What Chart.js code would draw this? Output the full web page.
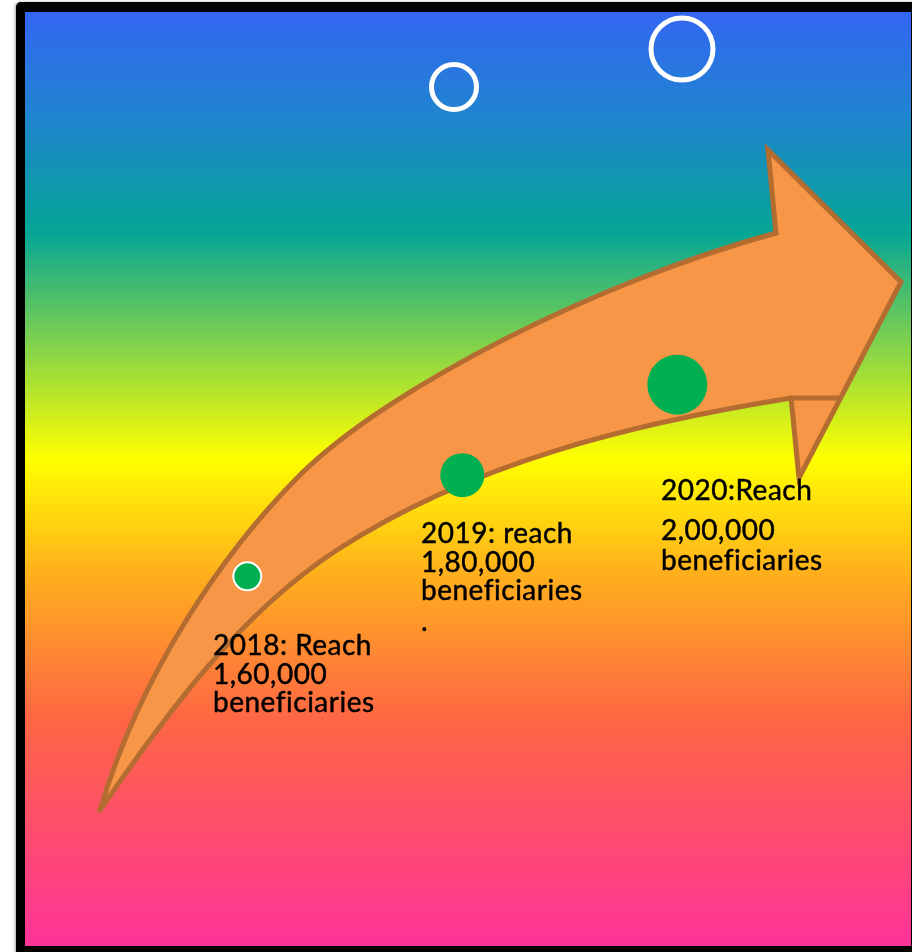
<!DOCTYPE html>
<html>
<head>
<meta charset="utf-8">
<title>Beneficiary reach 2018–2020</title>
<script src="https://cdn.jsdelivr.net/npm/chart.js@4/dist/chart.umd.min.js"></script>
<style>
  html, body { margin: 0; padding: 0; background: #ffffff; }
  #wrap { width: 912px; height: 952px; }
  canvas { display: block; }
</style>
</head>
<body>
<div id="wrap"><canvas id="reach" width="912" height="952"></canvas></div>
<script>
// Yearly reach targets
const years = [2018, 2019, 2020];
const beneficiaries = [160000, 180000, 200000];
const labelLines = [
  ['2018: Reach', '1,60,000', 'beneficiaries'],
  ['2019: reach', '1,80,000', 'beneficiaries', '.'],
  ['2020:Reach', '2,00,000', 'beneficiaries']
];

const ORANGE = '#F79646';
const BROWN = '#B46C30';
const GREEN = '#00B050';

// Bubble size grows with the target
function bubbleRadius(v) {
  return 14 + (v - 160000) * 16 / 40000;
}

// Path made of cubic Bézier pieces: [start, [c1, c2, end], [c1, c2, end], ...]
function bezierPath(ctx, spec, startNew) {
  if (startNew) ctx.moveTo(spec[0][0], spec[0][1]);
  for (let i = 1; i < spec.length; i++) {
    const s = spec[i];
    ctx.bezierCurveTo(s[0][0], s[0][1], s[1][0], s[1][1], s[2][0], s[2][1]);
  }
}
// Same path walked backwards (without the initial moveTo)
function bezierPathReverse(ctx, spec) {
  for (let i = spec.length - 1; i >= 1; i--) {
    const s = spec[i];
    const end = i > 1 ? spec[i - 1][2] : spec[0];
    ctx.bezierCurveTo(s[1][0], s[1][1], s[0][0], s[0][1], end[0], end[1]);
  }
}
function pathEnd(spec) {
  return spec[spec.length - 1][2];
}

// Framed rainbow backdrop
const backdrop = {
  id: 'backdrop',
  beforeDraw(chart) {
    const ctx = chart.ctx;
    ctx.save();
    ctx.fillStyle = '#ffffff';
    ctx.fillRect(0, 0, chart.width, chart.height);
    ctx.shadowColor = 'rgba(0,0,0,0.35)';
    ctx.shadowBlur = 3;
    ctx.shadowOffsetX = -1;
    ctx.fillStyle = '#000000';
    ctx.beginPath();
    ctx.roundRect(16, 2, chart.width + 20, chart.height + 20, 5);
    ctx.fill();
    ctx.shadowColor = 'transparent';
    const top = 12, bottom = 946;
    const g = ctx.createLinearGradient(0, top, 0, bottom);
    g.addColorStop(0.00, '#3366F2');
    g.addColorStop(0.10, '#2281D3');
    g.addColorStop(0.235, '#04A596');
    g.addColorStop(0.478, '#FFFF00');
    g.addColorStop(0.60, '#FFB01C');
    g.addColorStop(0.758, '#FF6644');
    g.addColorStop(1.00, '#FF3399');
    ctx.fillStyle = g;
    ctx.fillRect(25, top, 886, bottom - top);
    ctx.restore();
  }
};

// Curved arrow the targets ride on
const arrow = {
  id: 'arrow',
  beforeDatasetsDraw(chart, args, opts) {
    const ctx = chart.ctx;
    const up = opts.upper, low = opts.lower, head = opts.head;
    const lowEnd = pathEnd(low);
    ctx.save();
    ctx.fillStyle = ORANGE;
    ctx.beginPath();
    ctx.moveTo(head[0][0], head[0][1]);
    ctx.lineTo(head[1][0], head[1][1]);
    ctx.lineTo(head[2][0], head[2][1]);
    ctx.closePath();
    ctx.fill();
    ctx.beginPath();
    bezierPath(ctx, up, true);
    ctx.lineTo(opts.lowJoin[0], opts.lowJoin[1]);
    ctx.lineTo(lowEnd[0], lowEnd[1]);
    bezierPathReverse(ctx, low);
    ctx.closePath();
    ctx.fill();
    ctx.strokeStyle = BROWN;
    ctx.lineWidth = 5;
    ctx.lineJoin = 'miter';
    ctx.lineCap = 'round';
    ctx.beginPath();
    bezierPath(ctx, up, true);
    ctx.lineTo(head[0][0], head[0][1]);
    ctx.lineTo(head[1][0], head[1][1]);
    ctx.lineTo(head[2][0], head[2][1]);
    ctx.lineTo(lowEnd[0], lowEnd[1]);
    ctx.stroke();
    ctx.beginPath();
    bezierPath(ctx, low, true);
    ctx.lineTo(opts.lowJoin[0], opts.lowJoin[1]);
    ctx.stroke();
    ctx.restore();
  }
};

// Hollow rings and the target captions
const annotations = {
  id: 'annotations',
  afterDatasetsDraw(chart, args, opts) {
    const ctx = chart.ctx;
    ctx.save();
    ctx.strokeStyle = '#ffffff';
    ctx.lineWidth = 5;
    opts.rings.forEach(r => {
      ctx.beginPath();
      ctx.arc(r.x, r.y, r.r, 0, Math.PI * 2);
      ctx.stroke();
    });
    ctx.fillStyle = '#000000';
    ctx.strokeStyle = '#000000';
    ctx.lineWidth = 0.45;
    ctx.lineJoin = 'round';
    ctx.font = '28px Lato';
    if ('letterSpacing' in ctx) ctx.letterSpacing = '0.5px';
    ctx.textBaseline = 'alphabetic';
    ctx.textAlign = 'left';
    labelLines.forEach((lines, i) => {
      const pos = opts.captions[i];
      lines.forEach((t, j) => {
        ctx.fillText(t, pos.x, pos.baselines[j]);
        ctx.strokeText(t, pos.x, pos.baselines[j]);
      });
    });
    ctx.restore();
  }
};

function draw() {
  new Chart(document.getElementById('reach'), {
    type: 'scatter',
    data: {
      datasets: [{
        label: 'Beneficiaries',
        data: years.map((y, i) => ({ x: y, y: beneficiaries[i] })),
        backgroundColor: GREEN,
        borderColor: '#ffffff',
        borderWidth: ctx => (ctx.dataIndex === 0 ? 2 : 0),
        pointRadius: ctx => bubbleRadius(beneficiaries[ctx.dataIndex]),
        pointHoverRadius: ctx => bubbleRadius(beneficiaries[ctx.dataIndex])
      }]
    },
    options: {
      responsive: false,
      animation: false,
      events: [],
      layout: { padding: 0, autoPadding: false },
      scales: {
        x: { type: 'linear', display: false, bounds: 'data', min: 2016.8498, max: 2021.0916 },
        y: { type: 'logarithmic', display: false, bounds: 'data', min: 103322, max: 312960 }
      },
      plugins: {
        legend: { display: false },
        tooltip: { enabled: false },
        arrow: {
          upper: [[100, 810],
                  [[141, 672], [224, 551], [300, 475]],
                  [[390, 386], [600, 281], [776, 233]]],
          lower: [[100, 810],
                  [[166.5, 713.7], [239, 613.8], [337, 550]],
                  [[471, 462.8], [633.1, 423.3], [791, 398]]],
          lowJoin: [840, 398],
          head: [[768, 150], [901, 282], [799, 478]]
        },
        annotations: {
          rings: [{ x: 454, y: 87, r: 22.5 }, { x: 682, y: 49, r: 31 }],
          captions: [
            { x: 213, baselines: [655, 684, 712] },
            { x: 421, baselines: [543, 572, 600, 631] },
            { x: 661, baselines: [500, 540, 570] }
          ]
        }
      }
    },
    plugins: [backdrop, arrow, annotations]
  });
}

if (document.fonts && document.fonts.load) {
  document.fonts.load('28px Lato').then(draw, draw);
} else {
  draw();
}
</script>
</body>
</html>
